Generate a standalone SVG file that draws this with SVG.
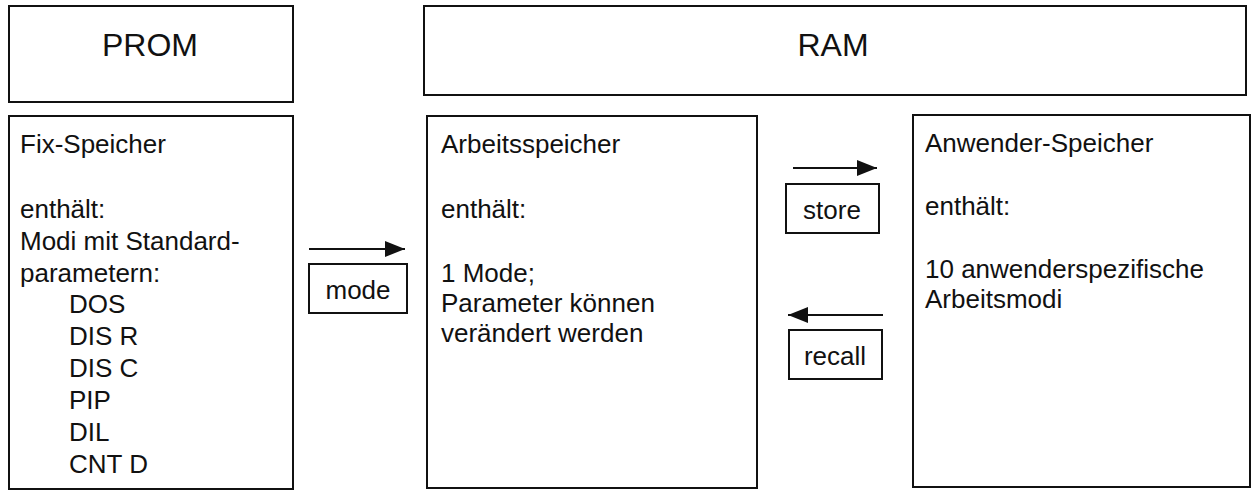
<svg xmlns="http://www.w3.org/2000/svg" width="1253" height="491" viewBox="0 0 1253 491">
<defs>
<style>
.box{fill:#fff;stroke:#111;stroke-width:2}
.t{font-family:"Liberation Sans",Arial,sans-serif;font-size:26px;fill:#111}
.h{font-family:"Liberation Sans",Arial,sans-serif;font-size:32px;fill:#111;text-anchor:middle}
.c{stroke:#111;stroke-width:2;fill:none}
</style>
<marker id="ah" markerWidth="10" markerHeight="8" refX="10" refY="4" orient="auto" markerUnits="userSpaceOnUse" viewBox="0 0 10 8">
<path d="M0,0 L10,4 L0,8 Z" fill="#111"/>
</marker>
<marker id="ahb" markerWidth="20" markerHeight="16" refX="20" refY="8" orient="auto" markerUnits="userSpaceOnUse" viewBox="0 0 20 16">
<path d="M0,0 L20,8 L0,16 Z" fill="#111"/>
</marker>
</defs>
<rect width="1253" height="491" fill="#fff"/>
<g id="prom">
<rect class="box" x="9" y="6" width="284" height="96"/>
<text class="h" x="150" y="56">PROM</text>
</g>
<g id="ram">
<rect class="box" x="424" y="6" width="822" height="89"/>
<text class="h" x="833" y="56">RAM</text>
</g>
<g id="fix">
<rect class="box" x="9" y="116" width="284" height="373"/>
<text class="t" x="20" y="153">Fix-Speicher</text>
<text class="t" x="20" y="218">enthält:</text>
<text class="t" x="20" y="250">Modi mit Standard-</text>
<text class="t" x="20" y="282">parametern:</text>
<text class="t" x="69" y="313">DOS</text>
<text class="t" x="69" y="345">DIS R</text>
<text class="t" x="69" y="377">DIS C</text>
<text class="t" x="69" y="409">PIP</text>
<text class="t" x="69" y="441">DIL</text>
<text class="t" x="69" y="473">CNT D</text>
</g>
<g id="arbeit">
<rect class="box" x="427" y="116" width="330" height="372"/>
<text class="t" x="441" y="153">Arbeitsspeicher</text>
<text class="t" x="441" y="218">enthält:</text>
<text class="t" x="441" y="282">1 Mode;</text>
<text class="t" x="441" y="312">Parameter können</text>
<text class="t" x="441" y="342">verändert werden</text>
</g>
<g id="anwender">
<rect class="box" x="913" y="115" width="337" height="372"/>
<text class="t" x="925" y="152">Anwender-Speicher</text>
<text class="t" x="925" y="215">enthält:</text>
<text class="t" x="925" y="278">10 anwenderspezifische</text>
<text class="t" x="925" y="308">Arbeitsmodi</text>
</g>
<g id="mode">
<rect class="box" x="309" y="264" width="98" height="49"/>
<text class="t" x="358" y="299" text-anchor="middle">mode</text>
</g>
<g id="store">
<rect class="box" x="786" y="184" width="93" height="49"/>
<text class="t" x="832" y="219" text-anchor="middle">store</text>
</g>
<g id="recall">
<rect class="box" x="789" y="330" width="93" height="49"/>
<text class="t" x="835" y="365" text-anchor="middle">recall</text>
</g>
<g id="connectors">
<line class="c" x1="309" y1="249" x2="405" y2="249" marker-end="url(#ahb)"/>
<line class="c" x1="793" y1="168" x2="877" y2="168" marker-end="url(#ahb)"/>
<line class="c" x1="883" y1="315" x2="788" y2="315" marker-end="url(#ahb)"/>
</g>
</svg>
